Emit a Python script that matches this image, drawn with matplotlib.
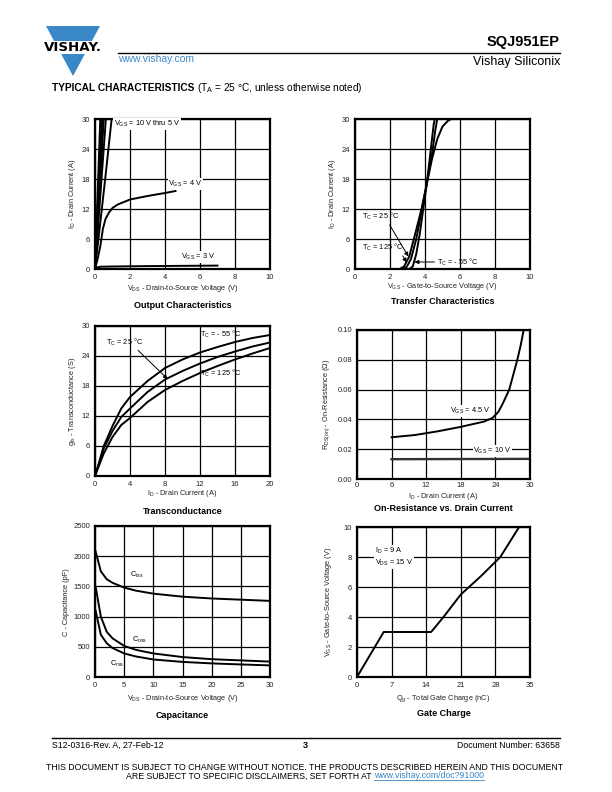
import matplotlib
matplotlib.use("Agg")
import matplotlib.pyplot as plt
from matplotlib.patches import Polygon, Rectangle
import numpy as np

plt.rcParams['font.family'] = ['Liberation Sans', 'DejaVu Sans']
plt.rcParams['mathtext.fontset'] = 'custom'
plt.rcParams['mathtext.rm'] = 'Liberation Sans'
plt.rcParams['mathtext.it'] = 'Liberation Sans'
plt.rcParams['mathtext.bf'] = 'Liberation Sans:bold'

W, H = 612, 792
BLUE = '#3b88c8'

# ---- data ----
# output characteristics: steep lines for VGS = 10 V ... 6 V reach 30 A at these VDS
vds_steep = [0.30, 0.36, 0.42, 0.50, 0.62]
vds_5v = [0.0, 0.3, 0.6, 0.95]
id_5v = [0.0, 9.2, 18.6, 30.0]
vds_4v = [0.0, 0.15, 0.3, 0.45, 0.6, 0.8, 1.0, 1.3, 2.0, 3.0, 4.0, 4.6]
id_4v = [0.0, 2.0, 4.5, 8.0, 10.0, 11.3, 12.2, 12.9, 13.9, 14.6, 15.2, 15.6]
vds_3v = [0.0, 0.1, 0.3, 1.0, 3.0, 5.0, 7.0]
id_3v = [0.0, 0.3, 0.45, 0.5, 0.58, 0.63, 0.68]

# transfer characteristics
vgs_m55 = [0.0, 3.1, 3.3, 3.5, 3.7, 3.9, 4.1, 4.3, 4.5, 4.56]
id_m55 = [0.0, 0.0, 0.5, 3.0, 7.0, 12.0, 17.0, 23.0, 29.0, 30.0]
vgs_25 = [0.0, 2.7, 2.95, 3.2, 3.5, 3.8, 4.1, 4.4, 4.6, 4.7]
id_25 = [0.0, 0.0, 0.4, 2.0, 6.0, 11.5, 17.0, 23.0, 28.0, 30.0]
vgs_125 = [0.0, 2.55, 2.8, 3.1, 3.4, 3.8, 4.1, 4.4, 4.7, 5.0, 5.3, 5.5]
id_125 = [0.0, 0.0, 0.5, 2.5, 6.5, 12.0, 17.0, 22.0, 26.0, 28.5, 29.6, 30.0]

# transconductance
id_gfs = [0.1, 1, 2, 3, 4, 6, 8, 10, 12, 14, 16, 18, 20]
gfs_m55 = [0.5, 6.0, 10.0, 13.5, 15.8, 19.0, 21.6, 23.3, 24.7, 25.8, 26.8, 27.6, 28.2]
gfs_25 = [0.5, 5.5, 9.0, 11.8, 13.5, 16.8, 19.3, 21.0, 22.5, 23.8, 24.9, 25.9, 26.7]
gfs_125 = [0.5, 4.5, 7.8, 10.2, 11.6, 14.8, 17.2, 19.0, 20.6, 22.0, 23.3, 24.5, 25.6]

# on-resistance
id_rds45 = [6, 10, 14, 18, 22, 23.5, 24.5, 25.2, 26.4, 27.1, 27.8, 28.4, 28.9]
rds_45 = [0.028, 0.0295, 0.032, 0.035, 0.0385, 0.041, 0.045, 0.05, 0.06, 0.07, 0.08, 0.09, 0.10]
id_rds10 = [6, 30]
rds_10 = [0.0133, 0.0135]

# capacitance
vds_c = [0.1, 1, 2, 3, 5, 7, 10, 15, 20, 25, 30]
ciss = [2080, 1750, 1620, 1560, 1480, 1430, 1380, 1330, 1300, 1280, 1260]
coss = [1500, 1000, 750, 640, 515, 450, 390, 330, 295, 275, 255]
crss = [1100, 700, 560, 480, 390, 340, 290, 250, 225, 208, 192]

# gate charge
qg = [0, 5.4, 15.0, 17.5, 21, 25, 29, 32.8]
vgs_qg = [0, 3.0, 3.0, 4.0, 5.5, 6.7, 8.0, 10.0]


def fx(x):
    return x / W


def fy(y):
    return 1 - y / H


fig = plt.figure(figsize=(6.12, 7.92), dpi=100)


def make_ax(l, t, r, b, xlim, ylim, xticks, yticks, yfmt=None):
    ax = fig.add_axes([l / W, 1 - b / H, (r - l) / W, (b - t) / H])
    ax.set_xlim(*xlim)
    ax.set_ylim(*ylim)
    ax.set_xticks(xticks)
    ax.set_yticks(yticks)
    if yfmt:
        ax.set_yticklabels([yfmt % v for v in yticks])
    ax.grid(True, color='k', lw=0.9)
    ax.set_axisbelow(True)
    ax.tick_params(length=0, labelsize=5.5, pad=3.5, colors='#222222')
    for s in ax.spines.values():
        s.set_linewidth(1.6)
    return ax


def labels(ax_l, ax_r, ax_b, xlab, xlab_y, ylab, ylab_x, title, title_y):
    xc = (ax_l + ax_r) / 2
    fig.text(fx(xc), fy(xlab_y), xlab, ha='center', va='center', fontsize=5.3, color='#222222')
    fig.text(fx(ylab_x), fy(ax_b - 75), ylab, ha='center', va='center', rotation=90,
             fontsize=5.3, color='#222222')
    fig.text(fx(xc), fy(title_y), title, ha='center', va='center', fontsize=6.5,
             fontweight='bold')


LW = 1.4
box = dict(facecolor='white', edgecolor='none', pad=0.6)

# ---- Output characteristics ----
ax = make_ax(95, 119, 270, 269, (0, 10), (0, 30), range(0, 11, 2), range(0, 31, 6))
for v in vds_steep:
    ax.plot([0, v], [0, 30], color='k', lw=LW)
ax.plot(vds_5v, id_5v, color='k', lw=LW)
ax.plot(vds_4v, id_4v, color='k', lw=LW)
ax.plot(vds_3v, id_3v, color='k', lw=LW)
ax.text(1.1, 29.0, r'V$_{\mathrm{GS}}$ = 10 V thru 5 V', fontsize=5.3, va='center', bbox=box)
ax.text(4.2, 17.0, r'V$_{\mathrm{GS}}$ = 4 V', fontsize=5.3, va='center', bbox=box)
ax.text(4.9, 2.4, r'V$_{\mathrm{GS}}$ = 3 V', fontsize=5.3, va='center', bbox=box)
labels(95, 270, 269, r'V$_{\mathrm{DS}}$ - Drain-to-Source Voltage (V)', 288,
       r'I$_{\mathrm{D}}$ - Drain Current (A)', 73, 'Output Characteristics', 306)

# ---- Transfer characteristics ----
ax = make_ax(355, 119, 530, 269, (0, 10), (0, 30), range(0, 11, 2), range(0, 31, 6))
ax.plot(vgs_m55, id_m55, color='k', lw=LW)
ax.plot(vgs_25, id_25, color='k', lw=LW)
ax.plot(vgs_125, id_125, color='k', lw=LW)
arrow = dict(arrowstyle='-|>', color='k', lw=0.7, mutation_scale=6, shrinkA=0, shrinkB=0)
ax.annotate(r'T$_{\mathrm{C}}$ = 25 °C', xy=(3.05, 2.5), xytext=(0.4, 10.5), fontsize=5.3,
            va='center', arrowprops=dict(arrow, relpos=(0.7, 0)))
ax.annotate(r'T$_{\mathrm{C}}$ = 125 °C', xy=(2.95, 1.3), xytext=(0.4, 4.3), fontsize=5.3,
            va='center', arrowprops=dict(arrow, relpos=(0.95, 0)))
ax.annotate(r'T$_{\mathrm{C}}$ = - 55 °C', xy=(3.4, 1.4), xytext=(4.7, 1.4), fontsize=5.3,
            va='center', arrowprops=dict(arrow, relpos=(0, 0.5)))
labels(355, 530, 269, r'V$_{\mathrm{GS}}$ - Gate-to-Source Voltage (V)', 287,
       r'I$_{\mathrm{D}}$ - Drain Current (A)', 333, 'Transfer Characteristics', 302)

# ---- Transconductance ----
ax = make_ax(95, 326, 270, 476, (0, 20), (0, 30), range(0, 21, 4), range(0, 31, 6))
ax.plot(id_gfs, gfs_m55, color='k', lw=LW)
ax.plot(id_gfs, gfs_25, color='k', lw=LW)
ax.plot(id_gfs, gfs_125, color='k', lw=LW)
ax.annotate(r'T$_{\mathrm{C}}$ = 25 °C', xy=(8.3, 19.4), xytext=(1.2, 26.8), fontsize=5.3,
            va='center', arrowprops=dict(arrow, relpos=(0.8, 0)))
ax.text(12.0, 28.3, r'T$_{\mathrm{C}}$ = - 55 °C', fontsize=5.3, va='center')
ax.text(12.0, 20.6, r'T$_{\mathrm{C}}$ = 125 °C', fontsize=5.3, va='center')
labels(95, 270, 476, r'I$_{\mathrm{D}}$ - Drain Current (A)', 493,
       r'g$_{\mathrm{fs}}$ - Transconductance (S)', 73, 'Transconductance', 511)

# ---- On-resistance ----
ax = make_ax(357, 330, 530, 479, (0, 30), (0, 0.10), range(0, 31, 6),
             [0, 0.02, 0.04, 0.06, 0.08, 0.10], yfmt='%.2f')
ax.tick_params(axis='x', pad=2.5)
ax.plot(id_rds45, rds_45, color='k', lw=LW)
ax.plot(id_rds10, rds_10, color='#333333', lw=LW + 0.3)
ax.text(16.2, 0.0455, r'V$_{\mathrm{GS}}$ = 4.5 V', fontsize=5.3, va='center', bbox=box)
ax.text(20.2, 0.019, r'V$_{\mathrm{GS}}$ = 10 V', fontsize=5.3, va='center', bbox=box)
labels(357, 530, 479, r'I$_{\mathrm{D}}$ - Drain Current (A)', 496,
       r'R$_{\mathrm{DS(on)}}$ - On-Resistance ($\Omega$)', 327,
       'On-Resistance vs. Drain Current', 509)

# ---- Capacitance ----
ax = make_ax(95, 526, 270, 677, (0, 30), (0, 2500), range(0, 31, 5), range(0, 2501, 500))
ax.plot(vds_c, ciss, color='k', lw=LW)
ax.plot(vds_c, coss, color='k', lw=LW)
ax.plot(vds_c, crss, color='k', lw=LW)
ax.text(6.0, 1690, r'C$_{\mathrm{iss}}$', fontsize=5.3, va='center')
ax.text(6.3, 620, r'C$_{\mathrm{oss}}$', fontsize=5.3, va='center')
ax.text(2.5, 215, r'C$_{\mathrm{rss}}$', fontsize=5.3, va='center')
labels(95, 270, 677, r'V$_{\mathrm{DS}}$ - Drain-to-Source Voltage (V)', 699,
       'C - Capacitance (pF)', 66, 'Capacitance', 716)

# ---- Gate charge ----
ax = make_ax(357, 527, 530, 677, (0, 35), (0, 10), range(0, 36, 7), range(0, 11, 2))
ax.plot(qg, vgs_qg, color='k', lw=LW)
ax.text(3.7, 8.0, 'I$_{\\mathrm{D}}$ = 9 A\nV$_{\\mathrm{DS}}$ = 15 V', fontsize=5.3,
        va='center', linespacing=1.2, bbox=box)
labels(357, 530, 677, r'Q$_{\mathrm{g}}$ - Total Gate Charge (nC)', 699,
       r'V$_{\mathrm{GS}}$ - Gate-to-Source Voltage (V)', 329, 'Gate Charge', 713)

# ---- page header ----
page = fig.add_axes([0, 0, 1, 1], zorder=-1)
page.set_xlim(0, W)
page.set_ylim(H, 0)
page.axis('off')
page.add_patch(Polygon([[46, 26], [100, 26], [73, 76]], closed=True, color=BLUE, lw=0))
page.add_patch(Rectangle((42, 41), 62, 13, color='white', lw=0))
page.text(72.5, 47.5, 'VISHAY.', ha='center', va='center', fontsize=9.6, fontweight='bold',
          family='Liberation Sans Narrow')
page.plot([118, 560], [52.5, 52.5], color='k', lw=1.0)
page.text(118, 59, 'www.vishay.com', ha='left', va='center', fontsize=7.5, color=BLUE)
page.text(560, 42, 'SQJ951EP', ha='right', va='center', fontsize=10.5, fontweight='bold')
page.text(560, 62, 'Vishay Siliconix', ha='right', va='center', fontsize=9)
t1 = page.text(52, 88, 'TYPICAL CHARACTERISTICS', ha='left', va='center', fontsize=7.3,
               fontweight='bold')
fig.canvas.draw()
r = fig.canvas.get_renderer()
bb = t1.get_window_extent(r)
page.text(bb.x1 + 3, 88, r'(T$_{\mathrm{A}}$ = 25 °C, unless otherwise noted)', ha='left',
          va='center', fontsize=7.3)

# ---- page footer ----
page.plot([52, 560], [738, 738], color='k', lw=1.0)
page.text(52, 745, 'S12-0316-Rev. A, 27-Feb-12', ha='left', va='center', fontsize=6.3)
page.text(305, 745, '3', ha='center', va='center', fontsize=6.5, fontweight='bold')
page.text(560, 745, 'Document Number: 63658', ha='right', va='center', fontsize=6.3)
page.text(305, 767, 'THIS DOCUMENT IS SUBJECT TO CHANGE WITHOUT NOTICE. THE PRODUCTS '
          'DESCRIBED HEREIN AND THIS DOCUMENT', ha='center', va='center', fontsize=6.3)
d1 = page.text(0, 776, 'ARE SUBJECT TO SPECIFIC DISCLAIMERS, SET FORTH AT ', ha='left',
               va='center', fontsize=6.3)
d2 = page.text(0, 776, 'www.vishay.com/doc?91000', ha='left', va='center', fontsize=6.3,
               color=BLUE)
fig.canvas.draw()
w1 = d1.get_window_extent(r).width
w2 = d2.get_window_extent(r).width
x0 = 305 - (w1 + w2) / 2
d1.set_x(x0)
d2.set_x(x0 + w1)
page.plot([x0 + w1, x0 + w1 + w2], [780, 780], color=BLUE, lw=0.6)

fig.savefig('out.png', dpi=100)
